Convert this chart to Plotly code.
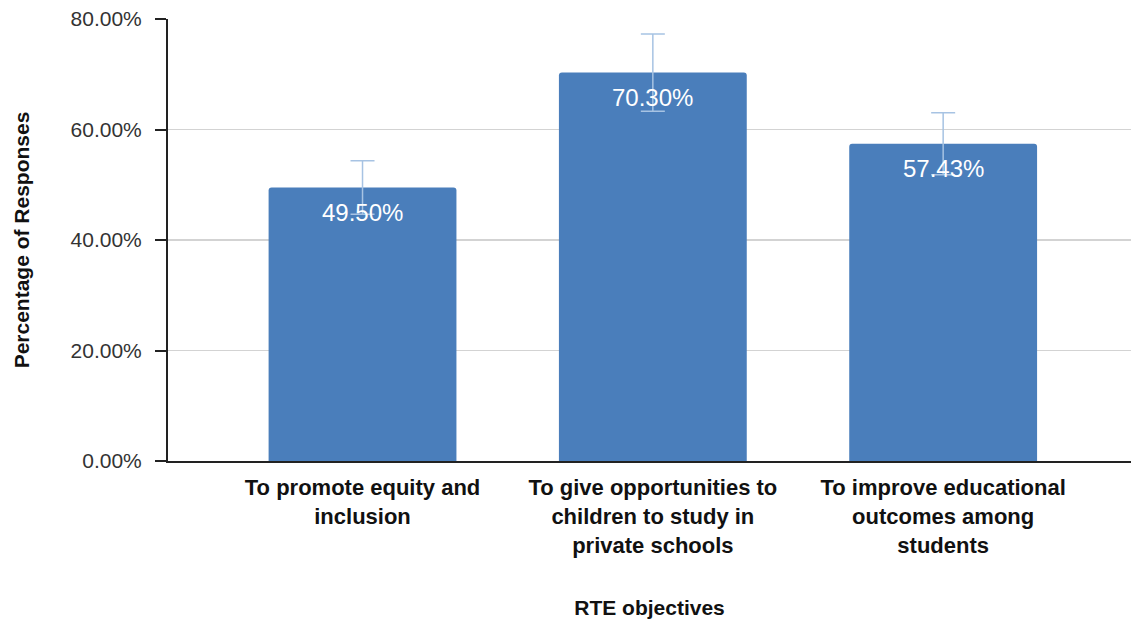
import plotly.graph_objects as go

categories = [
    "To promote equity and<br>inclusion",
    "To give opportunities to<br>children to study in<br>private schools",
    "To improve educational<br>outcomes among<br>students",
]
values = [49.50, 70.30, 57.43]
errors = [4.85, 7.0, 5.6]
value_labels = ["49.50%", "70.30%", "57.43%"]
y_ticks = [0, 20, 40, 60, 80]
y_tick_labels = ["0.00%", "20.00%", "40.00%", "60.00%", "80.00%"]

BAR = "#4a7ebb"
ERR = "#a7c3e3"
FONT = "Liberation Sans, Arial, sans-serif"

fig = go.Figure()
fig.add_trace(go.Bar(
    x=categories,
    y=values,
    width=0.647,
    marker=dict(color=BAR, line=dict(width=0)),
    error_y=dict(type="data", array=errors, visible=True,
                 color=ERR, thickness=1.5, width=12),
    hoverinfo="skip",
))

for c, v, t in zip(categories, values, value_labels):
    fig.add_annotation(x=c, y=v, text=t, showarrow=False, yshift=-25,
                       yanchor="middle", xanchor="center",
                       font=dict(family=FONT, size=24, color="white"))

fig.update_layout(
    width=1131, height=621,
    margin=dict(l=168, r=0, t=19, b=160),
    paper_bgcolor="white", plot_bgcolor="white",
    showlegend=False,
    barcornerradius=3,
    font=dict(family=FONT, color="#222222"),
)
fig.update_xaxes(
    range=[-0.67, 2.647],
    showline=True, linecolor="#222222", linewidth=2,
    showgrid=False, ticks="",
    tickfont=dict(family=FONT, size=22, color="#111111", weight="bold"),
    ticklabelstandoff=6,
    title=dict(text="<b>RTE objectives</b>", font=dict(family=FONT, size=21, color="#111111"),
               standoff=44),
    fixedrange=True,
)
fig.update_yaxes(
    range=[0, 80],
    tickvals=y_ticks, ticktext=y_tick_labels,
    showline=True, linecolor="#222222", linewidth=2,
    ticks="outside", ticklen=11, tickwidth=2, tickcolor="#222222",
    showgrid=True, gridcolor="#d3d3d3", gridwidth=1.5,
    zeroline=False,
    tickfont=dict(family=FONT, size=21, color="#333333"),
    ticklabelstandoff=9,
    title=dict(text="<b>Percentage of Responses</b>",
               font=dict(family=FONT, size=21, color="#111111"), standoff=35),
    fixedrange=True,
)

fig.write_html("out.html", config={"displayModeBar": False, "staticPlot": True},
               post_script="document.body.style.margin='0';document.body.style.overflow='hidden';")
